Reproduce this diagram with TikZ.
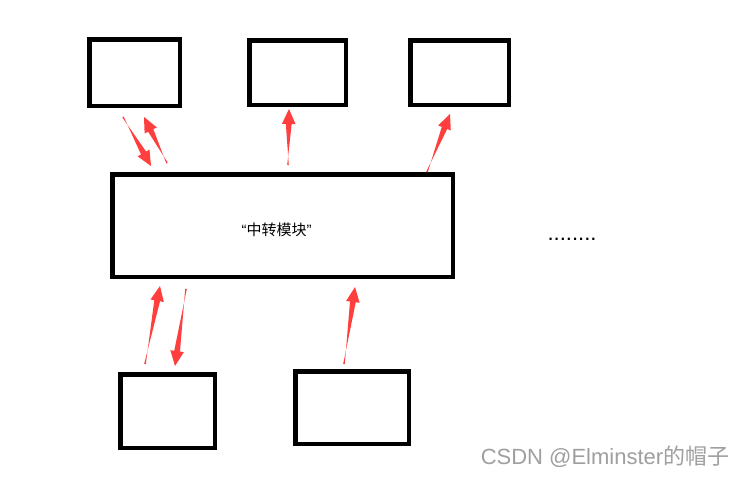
\documentclass[tikz,border=0pt]{standalone}
\usepackage{fontspec}
\setmainfont{Liberation Sans}
\newfontfamily\cjk{Noto Sans CJK SC}
\usetikzlibrary{positioning,calc}
\definecolor{arrowred}{RGB}{255,62,62}
\tikzset{
    module/.style={draw, line width=4.5pt, inner sep=0pt},
}
% tapered red arrow from #1 (tail) to #2 (tip)
\newcommand{\redArrow}[2]{%
    \path ($(#2)!15pt!(#1)$) coordinate (hb);
    \fill[arrowred] ($(#1)!0.8pt!90:(#2)$) -- ($(hb)!2.9pt!-90:(#2)$) -- ($(hb)!6.8pt!-90:(#2)$) -- (#2)
        -- ($(hb)!6.8pt!90:(#2)$) -- ($(hb)!2.9pt!90:(#2)$) -- ($(#1)!0.8pt!-90:(#2)$) -- cycle;
}

\begin{document}
\begin{tikzpicture}[x=1pt,y=-1pt]
    \useasboundingbox[fill=white] (0,0) rectangle (748,479);
    % modules
    \node[module, minimum width=90.5pt, minimum height=66.5pt] (top1) at (134.5,72.5) {};
    \node[module, minimum width=96.5pt, minimum height=64.5pt] (top2) at (297.5,72.5) {};
    \node[module, minimum width=98.5pt, minimum height=64.5pt] (top3) at (459.5,72.5) {};
    \node[module, minimum width=340.5pt, minimum height=102.5pt] (relay) at (282.5,225.5) {};
    \node[module, minimum width=94.5pt, minimum height=73.5pt] (bot1) at (167.5,411) {};
    \node[module, minimum width=113.5pt, minimum height=72.5pt] (bot2) at (352,407.5) {};
    \node (relaytext) at (276.5,229.5) {\fontsize{15}{17}\selectfont “{\cjk 中转模块}”};
    \node (more) at (572,239) {\fontsize{22}{24}\selectfont ........};
    \node[text=gray!75] (mark) at (605,457) {\fontsize{22}{24}\selectfont CSDN @Elminster{\cjk 的帽子}};
    % arrow ends
    \coordinate (a1) at (123,117);  \coordinate (a1t) at (151,166);
    \coordinate (a2) at (167,163);  \coordinate (a2t) at (144,117);
    \coordinate (a3) at (288,165);  \coordinate (a3t) at (289,109);
    \coordinate (a4) at (427,172);  \coordinate (a4t) at (450,114);
    \coordinate (b1) at (145,364);  \coordinate (b1t) at (160,286);
    \coordinate (b2) at (186,289);  \coordinate (b2t) at (175,366);
    \coordinate (b3) at (344,364);  \coordinate (b3t) at (355,287);
    % arrows
    \redArrow{a1}{a1t}
    \redArrow{a2}{a2t}
    \redArrow{a3}{a3t}
    \redArrow{a4}{a4t}
    \redArrow{b1}{b1t}
    \redArrow{b2}{b2t}
    \redArrow{b3}{b3t}
\end{tikzpicture}
\end{document}
